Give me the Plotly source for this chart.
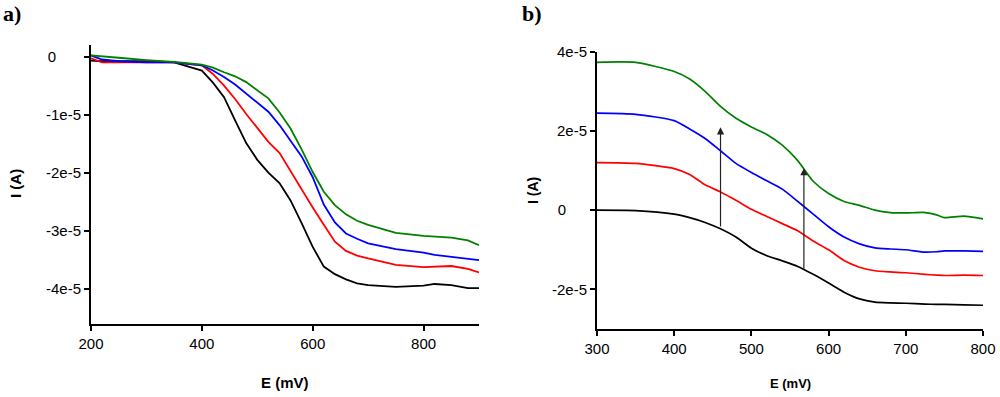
import plotly.graph_objects as go

# Panel a: current (units of 1e-5 A) vs potential (mV)
E_a = [200, 220, 250, 300, 350, 400, 420, 440, 460, 480, 500, 520, 540, 560, 580,
       600, 620, 640, 660, 680, 700, 750, 800, 820, 850, 880, 900]
black_a = [-0.07, -0.08, -0.08, -0.08, -0.10, -0.24, -0.45, -0.70, -1.10, -1.49, -1.78, -2.00, -2.18, -2.48, -2.87,
           -3.28, -3.62, -3.75, -3.84, -3.91, -3.94, -3.97, -3.95, -3.92, -3.94, -3.99, -3.99]
red_a = [-0.03, -0.10, -0.10, -0.10, -0.10, -0.15, -0.30, -0.50, -0.73, -0.99, -1.24, -1.47, -1.66, -1.98, -2.30,
         -2.60, -2.90, -3.19, -3.35, -3.43, -3.48, -3.59, -3.63, -3.62, -3.61, -3.66, -3.72]
blue_a = [0.02, -0.05, -0.08, -0.10, -0.10, -0.15, -0.24, -0.35, -0.48, -0.64, -0.79, -0.95, -1.18, -1.45, -1.72,
          -2.08, -2.55, -2.86, -3.05, -3.14, -3.22, -3.32, -3.38, -3.42, -3.45, -3.48, -3.51]
green_a = [0.02, 0.0, -0.02, -0.06, -0.09, -0.14, -0.19, -0.27, -0.34, -0.44, -0.58, -0.72, -0.96, -1.24, -1.60,
           -1.99, -2.33, -2.56, -2.72, -2.83, -2.90, -3.04, -3.09, -3.10, -3.12, -3.17, -3.25]

# Panel b
E_b = [300, 350, 400, 420, 440, 460, 480, 500, 520, 540, 560, 580, 600, 620, 640, 660, 680, 700,
       725, 740, 750, 775, 800]
green_b = [3.73, 3.73, 3.50, 3.31, 3.00, 2.62, 2.32, 2.10, 1.91, 1.64, 1.25, 0.73, 0.42, 0.22, 0.12, 0.00, -0.06, -0.07,
           -0.06, -0.12, -0.19, -0.15, -0.22]
blue_b = [2.45, 2.42, 2.26, 2.05, 1.81, 1.50, 1.18, 0.95, 0.74, 0.53, 0.22, -0.10, -0.42, -0.68, -0.85, -0.95, -0.98, -1.00,
          -1.06, -1.05, -1.03, -1.03, -1.04]
red_b = [1.20, 1.18, 1.05, 0.90, 0.64, 0.46, 0.25, 0.02, -0.16, -0.34, -0.52, -0.78, -1.00, -1.27, -1.44, -1.53, -1.56, -1.58,
         -1.62, -1.64, -1.65, -1.64, -1.65]
black_b = [0.00, -0.01, -0.10, -0.19, -0.31, -0.47, -0.68, -0.96, -1.15, -1.28, -1.42, -1.62, -1.84, -2.07, -2.24, -2.32, -2.34, -2.35,
           -2.37, -2.38, -2.38, -2.39, -2.40]

# arrows in panel b: x, tail, head
arrow_x = [460, 568]
arrow_tail = [-0.45, -1.52]
arrow_head = [2.09, 1.06]

ticks_a = [0, -1, -2, -3, -4]
ticklab_a = ["0" + "\u00a0" * 6, "-1e-5", "-2e-5", "-3e-5", "-4e-5"]
ticks_b = [4, 2, 0, -2]
ticklab_b = ["4e-5", "2e-5", "0" + "\u00a0" * 5, "-2e-5"]

W, H = 1000, 397
font = "Liberation Sans, Arial, sans-serif"

fig = go.Figure()
for y, c in [(black_a, "black"), (red_a, "#ff0000"), (blue_a, "#0000ff"), (green_a, "#008000")]:
    fig.add_trace(go.Scatter(x=E_a, y=y, mode="lines", line=dict(color=c, width=1.8), xaxis="x", yaxis="y"))
for y, c in [(black_b, "black"), (red_b, "#ff0000"), (blue_b, "#0000ff"), (green_b, "#008000")]:
    fig.add_trace(go.Scatter(x=E_b, y=y, mode="lines", line=dict(color=c, width=1.7, shape="spline", smoothing=0.6),
                             xaxis="x2", yaxis="y2"))

axis_common = dict(showline=True, linecolor="black", linewidth=2, ticks="outside", ticklen=5,
                   tickwidth=1.5, tickcolor="black", showgrid=False, zeroline=False, automargin=False,
                   tickfont=dict(family=font, size=15, color="black"), mirror=False)

fig.update_layout(
    width=W, height=H,
    margin=dict(l=0, r=0, t=0, b=0, pad=0),
    paper_bgcolor="white", plot_bgcolor="white",
    showlegend=False,
    xaxis=dict(domain=[91 / W, 479 / W], range=[200, 900], tickvals=[200, 400, 600, 800],
               anchor="y", **axis_common),
    yaxis=dict(domain=[(H - 324) / H, (H - 45) / H], range=[-4.61, 0.2], tickvals=ticks_a,
               ticktext=ticklab_a, anchor="x", **axis_common),
    xaxis2=dict(domain=[597 / W, 983 / W], range=[300, 800], tickvals=[300, 400, 500, 600, 700, 800],
                anchor="y2", **axis_common),
    yaxis2=dict(domain=[(H - 329) / H, (H - 51.7) / H], range=[-3, 4], tickvals=ticks_b,
                ticktext=ticklab_b, anchor="x2", **axis_common),
)

for x, t, h in zip(arrow_x, arrow_tail, arrow_head):
    fig.add_annotation(x=x, y=h, ax=x, ay=t, xref="x2", yref="y2", axref="x2", ayref="y2",
                       showarrow=True, arrowhead=2, arrowsize=1.2, arrowwidth=1.2,
                       arrowcolor="#222222", text="")

labels = [
    ("a)", 12 / W, 1 - 14 / H, 22, "Liberation Serif, Times New Roman, serif", 0),
    ("b)", 532 / W, 1 - 14 / H, 22, "Liberation Serif, Times New Roman, serif", 0),
    ("E (mV)", 285 / W, 1 - 382 / H, 15, font, 0),
    ("E (mV)", 790 / W, 1 - 383 / H, 13, font, 0),
    ("I (A)", 15 / W, 1 - 184 / H, 15, font, -90),
    ("I (A)", 533 / W, 1 - 191 / H, 14, font, -90),
]
for txt, x, y, s, f, ang in labels:
    fig.add_annotation(text=f"<b>{txt}</b>", x=x, y=y, xref="paper", yref="paper",
                       showarrow=False, textangle=ang, xanchor="center", yanchor="middle",
                       font=dict(family=f, size=s, color="black"))

# drop the default 8px page margin so the figure sits at the window corner
fig.write_html("out.html", config={"displayModeBar": False},
               post_script="document.body.style.margin='0';")
